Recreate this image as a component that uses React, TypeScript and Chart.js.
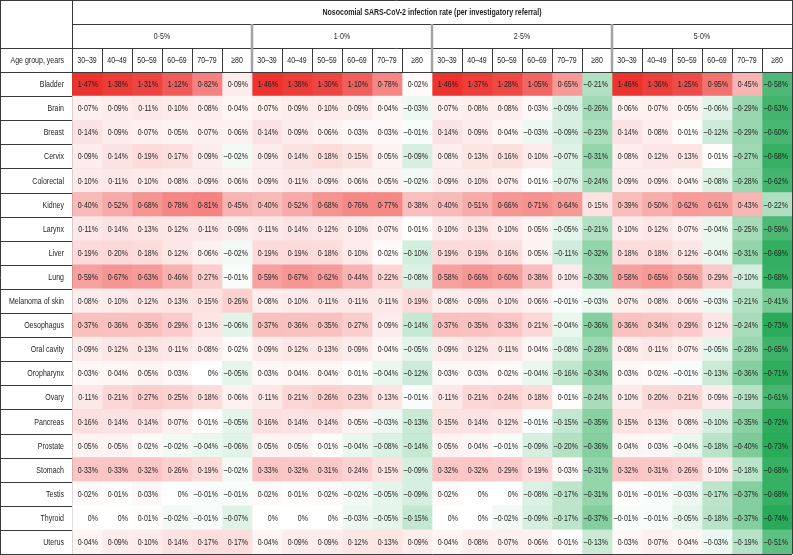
import React, { useEffect, useRef } from "react";
import { Chart, registerables } from "chart.js";

Chart.register(...registerables);

const title = "Nosocomial SARS-CoV-2 infection rate (per investigatory referral)";
const rates = ["0·5%", "1·0%", "2·5%", "5·0%"];
const ageGroups = ["30–39", "40–49", "50–59", "60–69", "70–79", "≥80"];
const ageHeader = "Age group, years";
const cancers = [
  "Bladder", "Brain", "Breast", "Cervix", "Colorectal", "Kidney", "Larynx", "Liver", "Lung",
  "Melanoma of skin", "Oesophagus", "Oral cavity", "Oropharynx", "Ovary", "Pancreas",
  "Prostate", "Stomach", "Testis", "Thyroid", "Uterus",
];

const rate05 = [
  [1.47, 1.38, 1.31, 1.12, 0.82, 0.09],
  [0.07, 0.09, 0.11, 0.10, 0.08, 0.04],
  [0.14, 0.09, 0.07, 0.05, 0.07, 0.06],
  [0.09, 0.14, 0.19, 0.17, 0.09, -0.02],
  [0.10, 0.11, 0.10, 0.08, 0.09, 0.06],
  [0.40, 0.52, 0.68, 0.78, 0.81, 0.45],
  [0.11, 0.14, 0.13, 0.12, 0.11, 0.09],
  [0.19, 0.20, 0.18, 0.12, 0.06, -0.02],
  [0.59, 0.67, 0.63, 0.46, 0.27, -0.01],
  [0.08, 0.10, 0.12, 0.13, 0.15, 0.26],
  [0.37, 0.36, 0.35, 0.29, 0.13, -0.06],
  [0.09, 0.12, 0.13, 0.11, 0.08, 0.02],
  [0.03, 0.04, 0.05, 0.03, 0, -0.05],
  [0.11, 0.21, 0.27, 0.25, 0.18, 0.06],
  [0.16, 0.14, 0.14, 0.07, 0.01, -0.05],
  [0.05, 0.05, 0.02, -0.02, -0.04, -0.06],
  [0.33, 0.33, 0.32, 0.26, 0.19, -0.02],
  [0.02, 0.01, 0.03, 0, -0.01, -0.01],
  [0, 0, 0.01, -0.02, -0.01, -0.07],
  [0.04, 0.09, 0.10, 0.14, 0.17, 0.17],
];

const rate10 = [
  [1.46, 1.38, 1.30, 1.10, 0.78, 0.02],
  [0.07, 0.09, 0.10, 0.09, 0.04, -0.03],
  [0.14, 0.09, 0.06, 0.03, 0.03, -0.01],
  [0.09, 0.14, 0.18, 0.15, 0.05, -0.09],
  [0.09, 0.11, 0.09, 0.06, 0.05, -0.02],
  [0.40, 0.52, 0.68, 0.76, 0.77, 0.38],
  [0.11, 0.14, 0.12, 0.10, 0.07, 0.01],
  [0.19, 0.19, 0.18, 0.10, 0.02, -0.10],
  [0.59, 0.67, 0.62, 0.44, 0.22, -0.08],
  [0.08, 0.10, 0.11, 0.11, 0.11, 0.19],
  [0.37, 0.36, 0.35, 0.27, 0.09, -0.14],
  [0.09, 0.12, 0.13, 0.09, 0.04, -0.05],
  [0.03, 0.04, 0.04, 0.01, -0.04, -0.12],
  [0.11, 0.21, 0.26, 0.23, 0.13, -0.01],
  [0.16, 0.14, 0.14, 0.05, -0.03, -0.13],
  [0.05, 0.05, 0.01, -0.04, -0.08, -0.14],
  [0.33, 0.32, 0.31, 0.24, 0.15, -0.09],
  [0.02, 0.01, 0.02, -0.02, -0.05, -0.09],
  [0, 0, 0, -0.03, -0.05, -0.15],
  [0.04, 0.09, 0.09, 0.12, 0.13, 0.09],
];

const rate25 = [
  [1.46, 1.37, 1.28, 1.05, 0.65, -0.21],
  [0.07, 0.08, 0.08, 0.03, -0.09, -0.26],
  [0.14, 0.09, 0.04, -0.03, -0.09, -0.23],
  [0.08, 0.13, 0.16, 0.10, -0.07, -0.31],
  [0.09, 0.10, 0.07, 0.01, -0.07, -0.24],
  [0.40, 0.51, 0.66, 0.71, 0.64, 0.15],
  [0.10, 0.13, 0.10, 0.05, -0.05, -0.21],
  [0.19, 0.19, 0.16, 0.05, -0.11, -0.32],
  [0.58, 0.66, 0.60, 0.38, 0.10, -0.30],
  [0.08, 0.09, 0.10, 0.06, -0.01, -0.03],
  [0.37, 0.35, 0.33, 0.21, -0.04, -0.36],
  [0.09, 0.12, 0.11, 0.04, -0.08, -0.28],
  [0.03, 0.03, 0.02, -0.04, -0.16, -0.34],
  [0.11, 0.21, 0.24, 0.18, 0.01, -0.24],
  [0.15, 0.14, 0.12, -0.01, -0.15, -0.35],
  [0.05, 0.04, -0.01, -0.09, -0.20, -0.36],
  [0.32, 0.32, 0.29, 0.19, 0.03, -0.31],
  [0.02, 0, 0, -0.08, -0.17, -0.31],
  [0, 0, -0.02, -0.09, -0.17, -0.37],
  [0.04, 0.08, 0.07, 0.06, 0.01, -0.13],
];

const rate50 = [
  [1.46, 1.36, 1.25, 0.95, 0.45, -0.58],
  [0.06, 0.07, 0.05, -0.06, -0.29, -0.63],
  [0.14, 0.08, 0.01, -0.12, -0.29, -0.60],
  [0.08, 0.12, 0.13, 0.01, -0.27, -0.68],
  [0.09, 0.09, 0.04, -0.08, -0.28, -0.62],
  [0.39, 0.50, 0.62, 0.61, 0.43, -0.22],
  [0.10, 0.12, 0.07, -0.04, -0.25, -0.59],
  [0.18, 0.18, 0.12, -0.04, -0.31, -0.69],
  [0.58, 0.65, 0.56, 0.29, -0.10, -0.68],
  [0.07, 0.08, 0.06, -0.03, -0.21, -0.41],
  [0.36, 0.34, 0.29, 0.12, -0.24, -0.73],
  [0.08, 0.11, 0.07, -0.05, -0.28, -0.65],
  [0.03, 0.02, -0.01, -0.13, -0.36, -0.71],
  [0.10, 0.20, 0.21, 0.09, -0.19, -0.61],
  [0.15, 0.13, 0.08, -0.10, -0.35, -0.72],
  [0.04, 0.03, -0.04, -0.18, -0.40, -0.73],
  [0.32, 0.31, 0.26, 0.10, -0.18, -0.68],
  [0.01, -0.01, -0.03, -0.17, -0.37, -0.68],
  [-0.01, -0.01, -0.05, -0.18, -0.37, -0.74],
  [0.03, 0.07, 0.04, -0.03, -0.19, -0.51],
];

const rateValues = [rate05, rate10, rate25, rate50];

const FONT = '"Liberation Sans", Arial, sans-serif';
const FONT_SIZE = 9.5;
const SQUEEZE = 0.74;
const LINE = "#3a3a3a";
const GROUP_LINE = "#a3a3a3";
const TEXT = "#1e1e1e";

const allVals = rateValues.flat(2);
const maxV = Math.max(...allVals);
const minV = Math.min(...allVals);

function cellColor(v: number): string {
  const lerp = (a: number, b: number, t: number) => Math.round(a + (b - a) * t);
  if (v >= 0) {
    const t = Math.pow(v / maxV, 0.85);
    return `rgb(${lerp(255, 236, t)},${lerp(255, 50, t)},${lerp(255, 46, t)})`;
  }
  const t = Math.pow(v / minV, 0.8);
  return `rgb(${lerp(255, 40, t)},${lerp(255, 170, t)},${lerp(255, 88, t)})`;
}

function fmt(v: number): string {
  if (v === 0) return "0%";
  const s = Math.abs(v).toFixed(2).replace(".", "·") + "%";
  return v < 0 ? "–" + s : s;
}

const nCols = rates.length * ageGroups.length;
const valueAt = (r: number, c: number) =>
  rateValues[Math.floor(c / ageGroups.length)][r][c % ageGroups.length];

function squeezedText(ctx: CanvasRenderingContext2D, text: string, x: number, y: number) {
  ctx.save();
  ctx.translate(x, y);
  ctx.scale(SQUEEZE, 1);
  ctx.fillText(text, 0, 0);
  ctx.restore();
}

export default function App() {
  const ref = useRef<HTMLCanvasElement | null>(null);

  useEffect(() => {
    if (!ref.current) return;
    const datasets = Array.from({ length: nCols }, (_, c) => ({
      label: String(c),
      data: cancers.map(() => [c, c + 1]),
      backgroundColor: cancers.map((_, r) => cellColor(valueAt(r, c))),
      borderWidth: 0,
      grouped: false,
      barPercentage: 1,
      categoryPercentage: 1,
    }));

    const tablePlugin = {
      id: "tablePlugin",
      afterDraw(chart: any) {
        const { ctx, chartArea, scales } = chart;
        const xs = scales.x;
        const ys = scales.y;
        const top = chartArea.top;
        const hRow = top / 3;
        const right = chartArea.right;
        const left = chartArea.left;
        ctx.save();
        ctx.fillStyle = TEXT;
        ctx.textBaseline = "middle";
        // cell texts
        ctx.font = `${FONT_SIZE}px ${FONT}`;
        ctx.textAlign = "right";
        for (let c = 0; c < nCols; c++) {
          const meta = chart.getDatasetMeta(c);
          meta.data.forEach((el: any, r: number) => {
            const xr = Math.max(el.x, el.base);
            squeezedText(ctx, fmt(valueAt(r, c)), xr - 4, el.y + 0.5);
          });
        }
        // row labels
        cancers.forEach((name, r) => {
          squeezedText(ctx, name, left - 8, ys.getPixelForValue(r) + 0.5);
        });
        squeezedText(ctx, ageHeader, left - 8, hRow * 2.5 + 0.5);
        // header texts
        ctx.textAlign = "center";
        ctx.font = `bold ${FONT_SIZE}px ${FONT}`;
        squeezedText(ctx, title, (left + right) / 2, hRow / 2 + 0.5);
        ctx.font = `${FONT_SIZE}px ${FONT}`;
        rates.forEach((rt, g) => {
          squeezedText(ctx, rt, xs.getPixelForValue(g * ageGroups.length + ageGroups.length / 2), hRow * 1.5 + 0.5);
        });
        for (let c = 0; c < nCols; c++) {
          squeezedText(ctx, ageGroups[c % ageGroups.length], xs.getPixelForValue(c + 0.5), hRow * 2.5 + 0.5);
        }

        // lines
        ctx.strokeStyle = LINE;
        ctx.lineWidth = 1;
        const hline = (y: number, x0: number, x1: number) => {
          ctx.beginPath();
          ctx.moveTo(x0, Math.round(y) + 0.5);
          ctx.lineTo(x1, Math.round(y) + 0.5);
          ctx.stroke();
        };
        const vline = (x: number, y0: number, y1: number) => {
          ctx.beginPath();
          ctx.moveTo(Math.round(x) + 0.5, y0);
          ctx.lineTo(Math.round(x) + 0.5, y1);
          ctx.stroke();
        };
        hline(0, 0, right + 1);
        hline(hRow, left, right + 1);
        hline(hRow * 2, 0, right + 1);
        hline(top, 0, right + 1);
        for (let r = 0; r <= cancers.length; r++) {
          const y = r === cancers.length ? chartArea.bottom : ys.getPixelForValue(r - 0.5);
          hline(y, 0, left);
        }
        vline(0, 0, chartArea.bottom + 1);
        vline(left, 0, top);
        vline(right, 0, top);
        for (let c = 1; c < nCols; c++) {
          if (c % ageGroups.length !== 0) vline(xs.getPixelForValue(c), hRow * 2, top);
        }
        ctx.strokeStyle = GROUP_LINE;
        ctx.lineWidth = 2.5;
        for (let g = 1; g < rates.length; g++) {
          const x = xs.getPixelForValue(g * ageGroups.length);
          ctx.beginPath();
          ctx.moveTo(x, hRow);
          ctx.lineTo(x, top);
          ctx.stroke();
        }
        ctx.restore();
      },
    };

    const chart = new Chart(ref.current, {
      type: "bar",
      data: { labels: cancers, datasets: datasets as any },
      options: {
        indexAxis: "y",
        responsive: false,
        animation: false,
        events: [],
        layout: { padding: { top: 0, left: 0, right: 1, bottom: 1 } },
        plugins: { legend: { display: false }, tooltip: { enabled: false }, title: { display: false } },
        scales: {
          x: {
            type: "linear",
            position: "top",
            min: 0,
            max: nCols,
            z: 1,
            ticks: { stepSize: 1, display: false },
            border: { display: false },
            grid: {
              drawTicks: false,
              color: (ctx: any) => {
                const v = ctx.tick?.value ?? 0;
                return v % ageGroups.length === 0 && v !== 0 && v !== nCols ? GROUP_LINE : LINE;
              },
              lineWidth: (ctx: any) => {
                const v = ctx.tick?.value ?? 0;
                return v % ageGroups.length === 0 && v !== 0 && v !== nCols ? 2.5 : 1;
              },
            },
            afterFit: (scale: any) => {
              scale.height = 72;
            },
          },
          y: {
            type: "category",
            offset: true,
            z: 1,
            border: { display: true, color: LINE },
            grid: { offset: true, drawTicks: false, color: LINE, lineWidth: 1 },
            ticks: { display: false },
            afterFit: (scale: any) => {
              scale.width = 72;
            },
          },
        },
      } as any,
      plugins: [tablePlugin],
    });
    return () => chart.destroy();
  }, []);

  return (
    <div style={{ position: "absolute", left: 0, top: 0, width: 793, height: 555, background: "#fff" }}>
      <canvas ref={ref} width={793} height={555} style={{ display: "block" }} />
    </div>
  );
}
